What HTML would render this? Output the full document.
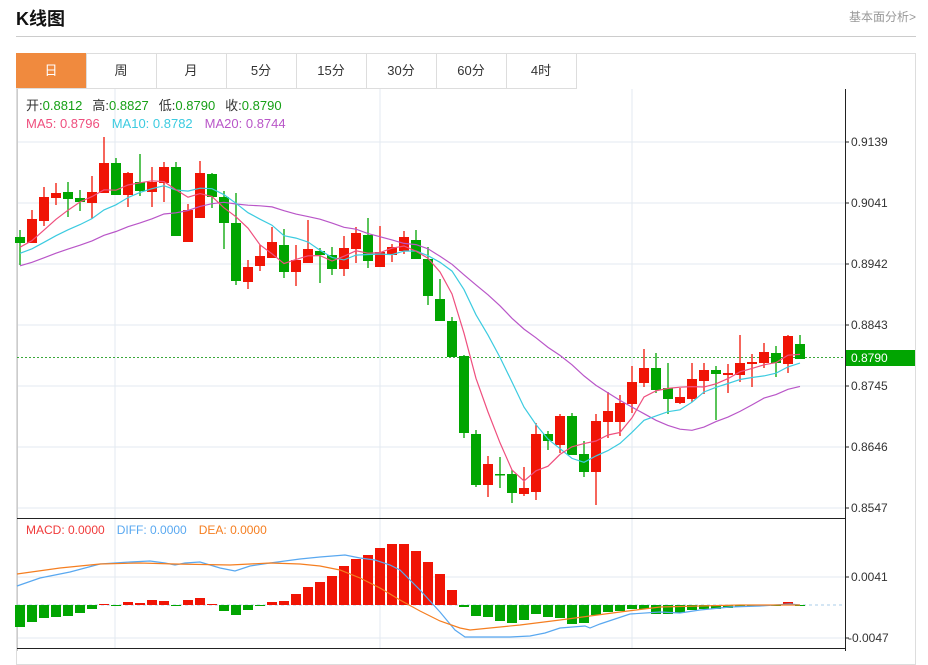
<!DOCTYPE html>
<html><head><meta charset="utf-8">
<style>
body{margin:0;background:#fff;width:928px;height:651px;overflow:hidden;font-family:"Liberation Sans","Noto Sans CJK SC",sans-serif;}
.t{position:absolute;left:16px;top:5px;font-size:18px;font-weight:bold;color:#111;}
.r{position:absolute;right:12px;top:8px;font-size:12px;color:#999;}
.hl{position:absolute;left:16px;top:36px;width:900px;height:1px;background:#ccc;}
.box{position:absolute;left:16px;top:53px;width:898px;height:610px;border:1px solid #ddd;}
.tabs{position:absolute;left:16px;top:53px;height:36px;}
.tab{position:absolute;top:0;width:70px;height:35px;line-height:35px;text-align:center;font-size:13px;color:#333;border-right:1px solid #ddd;border-bottom:1px solid #ddd;}
</style></head><body>
<div class="t">K线图</div><div class="r">基本面分析&gt;</div><div class="hl"></div>
<div class="box"></div>
<div class="tabs">
<div class="tab" style="left:0;background:#f08a3e;color:#fff">日</div>
<div class="tab" style="left:70px">周</div>
<div class="tab" style="left:140px">月</div>
<div class="tab" style="left:210px">5分</div>
<div class="tab" style="left:280px">15分</div>
<div class="tab" style="left:350px">30分</div>
<div class="tab" style="left:420px">60分</div>
<div class="tab" style="left:490px">4时</div>
</div>
<svg id="s" width="928" height="651" style="position:absolute;left:0;top:0" font-family="Liberation Sans, Noto Sans CJK SC, sans-serif"></svg>
<script>
var c=[[237,243,230,265],[243,219,210,243],[221,197,187,226],[198,193,183,205],[192,199,182,217],[198,202,190,211],[203,192,176,219],[193,163,137,193],[163,195,158,195],[195,173,172,207],[182,191,154,196],[192,182,167,207],[183,167,162,202],[167,236,162,236],[242,210,204,242],[218,173,161,218],[174,197,173,208],[197,223,191,249],[223,281,193,285],[282,267,260,289],[266,256,245,271],[258,242,227,258],[245,272,229,278],[272,260,245,286],[263,249,220,263],[251,255,248,283],[255,269,247,275],[269,248,236,276],[249,233,227,263],[235,261,218,268],[267,252,226,267],[255,247,244,262],[251,237,231,254],[240,259,230,259],[259,296,247,305],[299,321,279,321],[321,357,317,357],[356,433,355,438],[434,485,430,487],[485,464,456,497],[474,475,457,488],[474,493,470,503],[494,488,467,496],[492,434,423,500],[434,441,431,450],[445,416,414,453],[416,455,413,455],[454,472,441,477],[472,421,414,505],[422,411,392,438],[422,403,395,436],[404,382,366,413],[383,368,349,387],[368,390,353,393],[388,399,363,414],[403,397,388,404],[399,379,363,402],[381,370,363,394],[370,374,366,420],[375,373,364,393],[375,363,335,382],[364,362,354,387],[363,352,343,368],[353,363,346,377],[364,336,335,373],[344,359,335,359]];
var m=[627,622,618,617,616,613,609,604,606,602,603,600,601,606,600,598,604,611,615,610,606,602,601,594,587,582,576,566,559,555,548,544,544,551,562,574,590,607,616,617,621,623,620,614,617,618,624,623,615,612,611,609,609,614,614,613,610,609,609,608,607,606,605.7,605.7,602,605.5];
var s='';
function L(x1,y1,x2,y2,col,w,d){s+='<line x1="'+x1+'" y1="'+y1+'" x2="'+x2+'" y2="'+y2+'" stroke="'+col+'" stroke-width="'+(w||1)+'"'+(d?' stroke-dasharray="'+d+'"':'')+'/>';}
function T(x,y,t,col,sz){s+='<text x="'+x+'" y="'+y+'" fill="'+col+'" font-size="'+(sz||12)+'">'+t+'</text>';}
var gc='#e3eaf1';
[142,203,264,325,386,447,508].forEach(function(y){L(17,y,845,y,gc);});
[577,638].forEach(function(y){L(17,y,845,y,gc);});
[115,380,632].forEach(function(x){L(x,89,x,648,gc);});
L(17.5,89,17.5,651,'#ccc');
L(845.5,89,845.5,651,'#222');
L(17,518.5,845,518.5,'#222');L(17,648.5,845,648.5,'#222');
var lab=[['0.9139',142],['0.9041',203],['0.8942',264],['0.8843',325],['0.8745',386],['0.8646',447],['0.8547',508],['0.0041',577],['-0.0047',638]];
lab.forEach(function(a){L(845,a[1],849,a[1],'#222');T(a[0][0]=='-'?848:851,a[1]+4,a[0],'#333',12);});
L(17,357.5,845,357.5,'#3aa83a',1,'2,2');
// padded closes for MA
var cl=[];for(var k=0;k<20;k++)cl.push(292-k*2.5);
c.forEach(function(d){cl.push(d[1]);});
function ma(n,col){var p=[];for(var i=0;i<c.length;i++){var sm=0;for(var j=0;j<n;j++)sm+=cl[i+20-j];p.push((20+12*i)+','+(sm/n).toFixed(1));}
s+='<polyline points="'+p.join(' ')+'" fill="none" stroke="'+col+'" stroke-width="1.2"/>';}
c.forEach(function(d,i){var x=20+12*i,up=d[1]<d[0],col=up?'#f01405':'#01a501';
L(x,d[2],x,d[3],col,1.3);var t=Math.min(d[0],d[1]),h=Math.max(Math.abs(d[0]-d[1]),1.5);
s+='<rect x="'+(x-5)+'" y="'+t+'" width="10" height="'+h+'" fill="'+col+'"/>';});
ma(20,'#b956c8');ma(10,'#3ccbe0');ma(5,'#ef4f7e');
L(17,605,842,605,'#aacde8',1,'3,3');
m.forEach(function(v,i){var x=20+12*i;var col=v<605?'#f01405':'#01a501';var t=Math.min(v,605),h=Math.max(Math.abs(v-605),1);s+='<rect x="'+(x-5)+'" y="'+t+'" width="10" height="'+h+'" fill="'+col+'"/>';});
var blue=[[17,586],[40,578],[70,572],[100,564],[130,562],[150,561],[165,563],[175,565],[185,563],[200,562],[220,568],[235,571],[250,566],[270,563],[300,559],[320,557],[345,555],[360,558],[375,560],[390,565],[400,570],[420,590],[440,612],[455,630],[465,637],[475,637],[510,637],[530,636],[545,633],[560,628],[585,626],[590,628],[600,624],[630,614],[660,612],[680,613],[700,610],[730,607],[760,606],[790,604],[800,605]];
var or=[[17,574],[60,568],[100,564],[140,563],[175,564],[230,565],[270,563],[300,564],[320,566],[340,570],[360,578],[380,588],[400,600],[420,611],[440,621],[460,628],[470,630],[490,628],[520,625],[560,620],[590,616],[620,612],[660,607],[700,606],[740,605],[800,605]];
s+='<polyline points="'+blue.join(' ')+'" fill="none" stroke="#59a8f0" stroke-width="1.2"/>';
s+='<polyline points="'+or.join(' ')+'" fill="none" stroke="#f57e20" stroke-width="1.2"/>';
s+='<rect x="846" y="350" width="69" height="16" fill="#01a501"/>';T(851,362,'0.8790','#fff',12);
s+='<text y="110" font-size="13"><tspan x="26" fill="#333">开:</tspan><tspan fill="#16a016">0.8812</tspan><tspan dx="10" fill="#333">高:</tspan><tspan fill="#16a016">0.8827</tspan><tspan dx="10" fill="#333">低:</tspan><tspan fill="#16a016">0.8790</tspan><tspan dx="10" fill="#333">收:</tspan><tspan fill="#16a016">0.8790</tspan></text>';
s+='<text y="128" font-size="13"><tspan x="26" fill="#ef4f7e">MA5: 0.8796</tspan><tspan dx="12" fill="#3ccbe0">MA10: 0.8782</tspan><tspan dx="12" fill="#b956c8">MA20: 0.8744</tspan></text>';
s+='<text y="534" font-size="12"><tspan x="26" fill="#f03a3a">MACD: 0.0000</tspan><tspan dx="12" fill="#59a8f0">DIFF: 0.0000</tspan><tspan dx="12" fill="#f57e20">DEA: 0.0000</tspan></text>';
document.getElementById('s').innerHTML=s;
</script>
</body></html>
